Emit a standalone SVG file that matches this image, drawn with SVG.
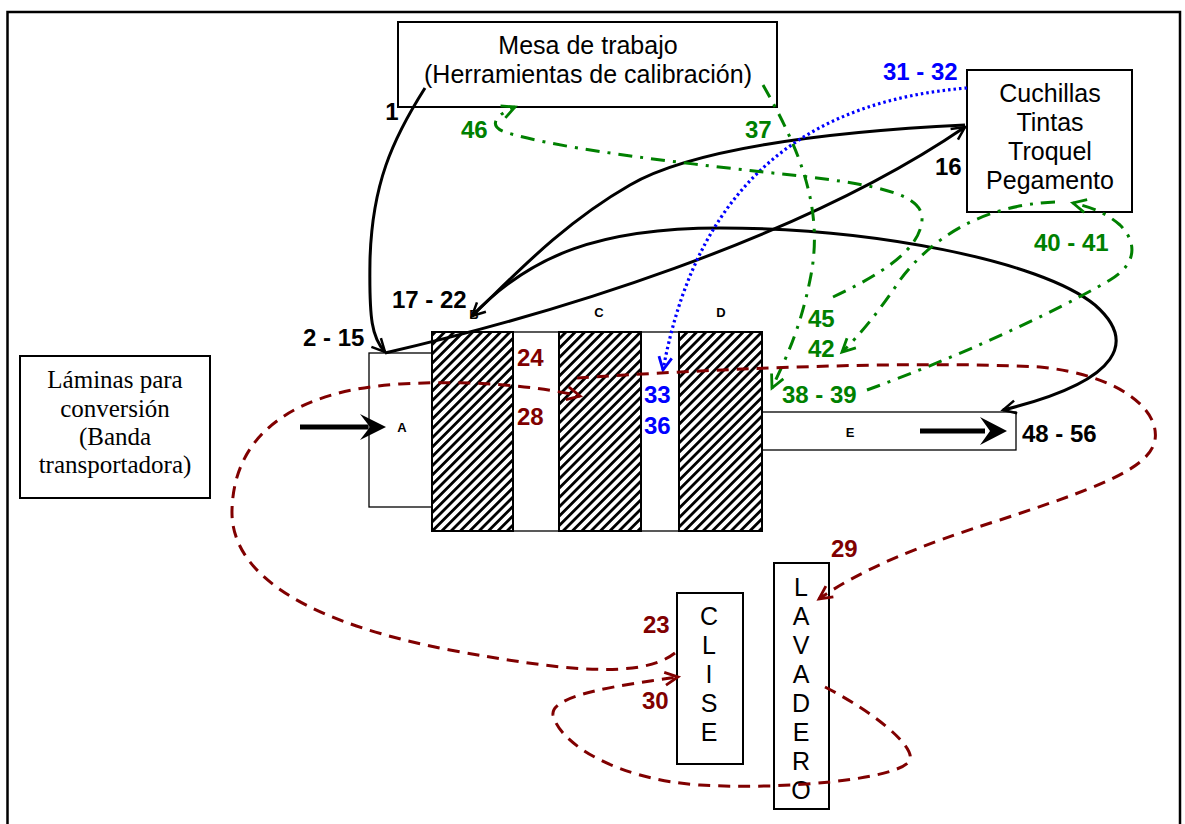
<svg xmlns="http://www.w3.org/2000/svg" width="1185" height="824" viewBox="0 0 1185 824">
<defs>
<pattern id="hatch" patternUnits="userSpaceOnUse" width="6.6" height="6.6" patternTransform="rotate(45)">
<rect x="0" y="0" width="6.6" height="6.6" fill="#fff"/>
<rect x="0" y="0" width="2.8" height="6.6" fill="#000"/>
</pattern>
<marker id="aK" markerUnits="userSpaceOnUse" markerWidth="16" markerHeight="14" refX="14" refY="6.5" orient="auto" overflow="visible"><path d="M1,0 L14,6.5 L1,13" fill="none" stroke="#000" stroke-width="2.5"/></marker>
<marker id="aR" markerUnits="userSpaceOnUse" markerWidth="16" markerHeight="14" refX="14" refY="6.5" orient="auto" overflow="visible"><path d="M1,0 L14,6.5 L1,13" fill="none" stroke="#800000" stroke-width="2.8"/></marker>
<marker id="aG" markerUnits="userSpaceOnUse" markerWidth="16" markerHeight="14" refX="14" refY="6.5" orient="auto" overflow="visible"><path d="M1,0 L14,6.5 L1,13" fill="none" stroke="#008000" stroke-width="2.8"/></marker>
<marker id="aB" markerUnits="userSpaceOnUse" markerWidth="16" markerHeight="14" refX="14" refY="6.5" orient="auto" overflow="visible"><path d="M1,0 L14,6.5 L1,13" fill="none" stroke="#0000ff" stroke-width="2.8"/></marker>
</defs>
<style>
.box{fill:#fff;stroke:#000;stroke-width:2}
.thin{fill:#fff;stroke:#000;stroke-width:1.3}
.t{font-family:"Liberation Sans",Arial,sans-serif;font-size:25px;fill:#000;text-anchor:middle}
.ts{font-family:"Liberation Serif","Times New Roman",serif;font-size:25px;fill:#000;text-anchor:middle}
.lb{font-family:"Liberation Sans",Arial,sans-serif;font-size:24px;font-weight:bold}
.sm{font-family:"Liberation Sans",Arial,sans-serif;font-size:13px;font-weight:bold;text-anchor:middle}
.k{fill:#000}.r{fill:#800000}.g{fill:#008000}.b{fill:#0000ff}
.ck{fill:none;stroke:#000;stroke-width:3}
.cr{fill:none;stroke:#800000;stroke-width:3;stroke-dasharray:12 8}
.cg{fill:none;stroke:#008000;stroke-width:3;stroke-dasharray:14 8 3 8}
.cb{fill:none;stroke:#0000ff;stroke-width:3.2;stroke-dasharray:2.5 3}
</style>
<rect x="7.5" y="12" width="1172.5" height="840" fill="#fff" stroke="#000" stroke-width="2.5"/>

<g id="mesa">
<rect class="box" x="398" y="22" width="379" height="85"/>
<text class="t" x="588" y="54">Mesa de trabajo</text>
<text class="t" x="588" y="83">(Herramientas de calibración)</text>
</g>
<g id="cuchillas">
<rect class="box" x="967" y="70" width="165" height="142"/>
<text class="t" x="1050" y="102">Cuchillas</text>
<text class="t" x="1050" y="131">Tintas</text>
<text class="t" x="1050" y="160">Troquel</text>
<text class="t" x="1050" y="189">Pegamento</text>
</g>
<g id="laminas">
<rect class="box" x="20" y="356" width="190" height="142"/>
<text class="ts" x="115" y="388">Láminas para</text>
<text class="ts" x="115" y="417">conversión</text>
<text class="ts" x="115" y="445">(Banda</text>
<text class="ts" x="115" y="473">transportadora)</text>
</g>
<g id="A">
<rect class="thin" x="369" y="353" width="63" height="154"/>
<text class="sm" x="402" y="432">A</text>
</g>
<g id="E">
<rect class="thin" x="762" y="412" width="254" height="38"/>
<text class="sm" x="850" y="437">E</text>
<line x1="920" y1="431" x2="985" y2="431" stroke="#000" stroke-width="5"/>
<polygon points="1007,431 980,417 990,431 980,445" fill="#000"/>
</g>
<g id="maquina">
<rect x="513" y="332" width="46" height="199" fill="#fff" stroke="#000" stroke-width="1.3"/>
<rect x="641" y="332" width="38" height="199" fill="#fff" stroke="#000" stroke-width="1.3"/>
<rect x="432" y="332" width="81" height="199" fill="url(#hatch)" stroke="#000" stroke-width="2"/>
<rect x="559" y="332" width="82" height="199" fill="url(#hatch)" stroke="#000" stroke-width="2"/>
<rect x="679" y="332" width="83" height="199" fill="url(#hatch)" stroke="#000" stroke-width="2"/>
<text class="sm" x="474" y="319">B</text>
<text class="sm" x="599" y="317">C</text>
<text class="sm" x="721" y="317">D</text>
</g>
<g id="clise">
<rect class="box" x="677" y="593" width="66" height="171"/>
<text class="t" x="709" y="625">C</text>
<text class="t" x="709" y="654">L</text>
<text class="t" x="709" y="683">I</text>
<text class="t" x="709" y="712">S</text>
<text class="t" x="709" y="741">E</text>
</g>
<g id="lavadero">
<rect class="box" x="774" y="563" width="55" height="246"/>
<text class="t" x="801" y="596">L</text>
<text class="t" x="801" y="625">A</text>
<text class="t" x="801" y="654">V</text>
<text class="t" x="801" y="683">A</text>
<text class="t" x="801" y="712">D</text>
<text class="t" x="801" y="741">E</text>
<text class="t" x="801" y="770">R</text>
<text class="t" x="801" y="799">O</text>
</g>

<g id="connectors">
<line x1="300" y1="427" x2="368" y2="427" stroke="#000" stroke-width="5"/>
<polygon points="386,427 360,414 370,427 360,440" fill="#000"/>
<path class="ck" d="M425,88 C392,140 372,185 370,260 C369,320 372,338 385,352" marker-end="url(#aK)"/>
<path class="ck" d="M385,353 C550,315 800,240 965,127" marker-end="url(#aK)"/>
<path class="ck" d="M965,125 C820,132 690,150 630,185 C560,225 510,280 472,316" marker-end="url(#aK)"/>
<path class="ck" d="M472,316 C530,255 600,228 720,228 C870,228 1040,260 1095,305 C1135,340 1125,380 1003,410" marker-end="url(#aK)"/>
<path class="cb" d="M967,88 C820,100 700,170 663,370" marker-end="url(#aB)"/>
<path class="cg" d="M833,297 C880,275 920,250 922,220 C924,195 880,185 800,176 C700,165 560,150 505,132 C488,126 495,115 515,107" marker-end="url(#aG)"/>
<path class="cg" d="M763,85 C800,150 825,210 810,280 C800,330 785,360 772,388" marker-end="url(#aG)"/>
<path class="cg" d="M867,390 C950,360 1050,315 1110,280 C1140,262 1135,240 1120,225 C1105,212 1090,207 1073,203" marker-end="url(#aG)"/>
<path class="cg" d="M1055,202 C980,205 930,240 900,280 C880,310 860,335 842,352" marker-end="url(#aG)"/>
<path class="cr" d="M675,653 C640,680 560,670 450,650 C320,625 230,580 232,510 C234,430 300,390 400,384 C470,380 530,385 580,396" marker-end="url(#aR)"/>
<path class="cr" d="M577,378 C700,370 900,360 1040,367 C1120,375 1160,410 1155,440 C1150,470 1090,490 1000,520 C920,545 860,570 819,599" marker-end="url(#aR)"/>
<path class="cr" d="M825,687 C870,710 915,745 910,760 C900,780 780,790 700,785 C620,780 560,745 553,715 C550,695 620,685 678,677" marker-end="url(#aR)"/>
</g>

<g id="labels">
<text class="lb k" x="392" y="120" text-anchor="middle">1</text>
<text class="lb k" x="303" y="346">2 - 15</text>
<text class="lb k" x="392" y="308">17 - 22</text>
<text class="lb k" x="935" y="175">16</text>
<text class="lb k" x="1022" y="442">48 - 56</text>
<text class="lb b" x="883" y="80">31 - 32</text>
<text class="lb b" x="644" y="403">33</text>
<text class="lb b" x="644" y="434">36</text>
<text class="lb g" x="461" y="138">46</text>
<text class="lb g" x="745" y="138">37</text>
<text class="lb g" x="1034" y="251">40 - 41</text>
<text class="lb g" x="808" y="327">45</text>
<text class="lb g" x="808" y="357">42</text>
<text class="lb g" x="782" y="403">38 - 39</text>
<text class="lb r" x="517" y="366">24</text>
<text class="lb r" x="517" y="425">28</text>
<text class="lb r" x="643" y="633">23</text>
<text class="lb r" x="642" y="709">30</text>
<text class="lb r" x="831" y="557">29</text>
</g>
</svg>
